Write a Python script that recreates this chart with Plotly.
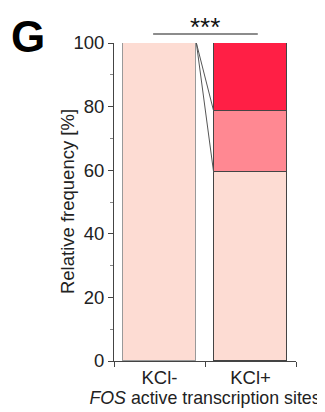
import plotly.graph_objects as go
import numpy as np

categories = ["KCl-", "KCl+"]
seg_low = [100.0, 59.3]
seg_mid = [0.0, 19.3]
seg_high = [0.0, 21.4]
colors = ["#FDDCD3", "#FF8892", "#FF1F45"]
y_ticks = [0, 20, 40, 60, 80, 100]

xpos = [0, 1]
bw = 0.81
fig = go.Figure()
for vals, col in zip([seg_low, seg_mid, seg_high], colors):
    fig.add_trace(go.Bar(x=xpos, y=vals, width=bw, marker=dict(color=col, line=dict(color=["#999999", "#444444"], width=1)),
                         showlegend=False, hoverinfo="skip"))

# connector lines
b1 = seg_low[1] + seg_mid[1]
b2 = seg_low[1]
for yb in [b1, b2]:
    fig.add_trace(go.Scatter(x=[xpos[0] + bw / 2, xpos[1] - bw / 2], y=[100, yb], mode="lines",
                             line=dict(color="#555555", width=1), showlegend=False, hoverinfo="skip"))

# page body has an 8px default margin, so the figure is shrunk accordingly
fig.update_layout(
    barmode="stack",
    width=317, height=404,
    margin=dict(l=106, r=29, t=35, b=51),
    plot_bgcolor="white", paper_bgcolor="white",
    font=dict(family="Liberation Sans, Arial", size=18.5, color="#222222"),
    bargap=0,
)
fig.update_xaxes(range=[-0.5, 1.5], tickvals=xpos, ticktext=categories, ticks="", automargin=False,
                 showline=True, linecolor="#444444", linewidth=1, showgrid=False, zeroline=False,
                 minor=dict(tickvals=[-0.5, 0.5, 1.5], ticks="outside", ticklen=5, tickcolor="#444444"),
                 title=dict(text="<i>FOS</i> active transcription sites", standoff=0, font=dict(size=17.8)))
fig.update_yaxes(range=[0, 100], tickvals=y_ticks, ticks="outside", ticklen=5, tickcolor="#444444", automargin=False,
                 showline=True, linecolor="#444444", linewidth=1, showgrid=False, zeroline=False,
                 minor=dict(dtick=10, ticks="outside", ticklen=3, tickcolor="#888888"))

fig.add_annotation(text="Relative frequency [%]", xref="paper", yref="paper", x=-0.258, y=0.5,
                   xanchor="center", yanchor="middle", textangle=-90, showarrow=False,
                   font=dict(size=18.5, color="#222222"))
fig.add_shape(type="line", xref="x", yref="paper", x0=-0.07, x1=1.08, y0=1.028, y1=1.028,
              line=dict(color="#666666", width=1.5))
fig.add_annotation(text="***", xref="x", yref="paper", x=0.5, y=0.997, yanchor="bottom",
                   showarrow=False, font=dict(size=26, color="#111111"))
fig.add_annotation(text="<b>G</b>", xref="paper", yref="paper", x=-0.47, y=1.022, xanchor="center", yanchor="middle",
                   showarrow=False, font=dict(size=44, color="black"))

fig.write_html("out.html")
